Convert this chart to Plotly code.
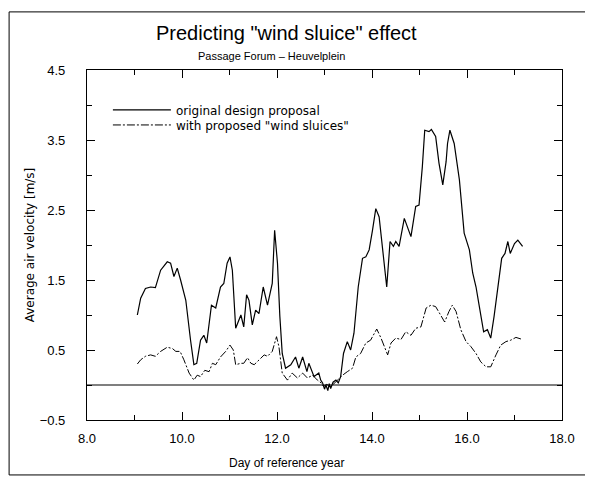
import plotly.graph_objects as go

# ---- data ----
orig_day = [9.06, 9.13, 9.23, 9.34, 9.44, 9.55, 9.69, 9.76, 9.83, 9.90, 9.97, 10.08, 10.18, 10.25, 10.31,
            10.39, 10.46, 10.52, 10.62, 10.71, 10.81, 10.88, 10.95, 11.01, 11.06, 11.13, 11.24, 11.30, 11.36,
            11.41, 11.48, 11.55, 11.62, 11.71, 11.80, 11.87, 11.90, 11.95, 12.01, 12.06, 12.11, 12.18, 12.29,
            12.39, 12.46, 12.54, 12.63, 12.67, 12.78, 12.88, 12.92, 12.96, 13.00, 13.03, 13.07, 13.10, 13.13,
            13.18, 13.24, 13.29, 13.34, 13.40, 13.48, 13.55, 13.62, 13.71, 13.80, 13.87, 13.94, 14.01, 14.08,
            14.15, 14.22, 14.31, 14.38, 14.45, 14.50, 14.57, 14.68, 14.75, 14.82, 14.92, 14.99, 15.06, 15.11,
            15.20, 15.25, 15.34, 15.41, 15.49, 15.56, 15.59, 15.64, 15.73, 15.84, 15.94, 16.05, 16.12, 16.19,
            16.26, 16.35, 16.43, 16.50, 16.57, 16.64, 16.73, 16.80, 16.86, 16.91, 17.00, 17.07, 17.17]
orig_vel = [1.00, 1.24, 1.38, 1.40, 1.39, 1.64, 1.76, 1.74, 1.55, 1.67, 1.50, 1.21, 0.64, 0.29, 0.31,
            0.64, 0.71, 0.60, 1.14, 1.10, 1.40, 1.45, 1.74, 1.83, 1.64, 0.81, 1.00, 0.83, 1.29,
            1.21, 0.86, 1.07, 1.02, 1.40, 1.14, 1.33, 1.45, 2.21, 1.74, 0.98, 0.45, 0.24, 0.29,
            0.40, 0.24, 0.40, 0.19, 0.31, 0.12, 0.17, 0.07, 0.03, -0.06, 0.00, -0.08, 0.02, -0.05,
            0.04, 0.07, 0.03, 0.12, 0.45, 0.62, 0.50, 0.74, 1.40, 1.81, 1.83, 1.93, 2.21, 2.52,
            2.40, 1.98, 1.40, 2.05, 1.98, 2.05, 1.98, 2.38, 2.26, 2.12, 2.55, 2.57, 3.12, 3.64,
            3.62, 3.65, 3.55, 3.17, 2.86, 3.19, 3.45, 3.64, 3.45, 2.93, 2.17, 1.93, 1.60, 1.40,
            1.12, 0.76, 0.79, 0.67, 0.98, 1.36, 1.81, 1.88, 2.05, 1.88, 2.02, 2.07, 1.98]

sluice_day = [9.06, 9.13, 9.23, 9.34, 9.44, 9.55, 9.69, 9.80, 9.87, 9.96, 10.04, 10.15, 10.25, 10.32, 10.39,
              10.48, 10.57, 10.64, 10.71, 10.81, 10.92, 11.01, 11.08, 11.13, 11.24, 11.30, 11.38, 11.45, 11.52,
              11.62, 11.73, 11.80, 11.90, 11.99, 12.04, 12.11, 12.22, 12.32, 12.43, 12.54, 12.64, 12.75, 12.85,
              12.93, 12.98, 13.05, 13.12, 13.20, 13.38, 13.48, 13.59, 13.66, 13.76, 13.87, 13.97, 14.10, 14.19,
              14.33, 14.40, 14.50, 14.61, 14.71, 14.82, 14.92, 15.03, 15.14, 15.24, 15.34, 15.45, 15.53, 15.62,
              15.69, 15.77, 15.87, 15.98, 16.08, 16.19, 16.29, 16.40, 16.50, 16.61, 16.71, 16.82, 16.92, 17.03,
              17.17]
sluice_vel = [0.30, 0.36, 0.41, 0.43, 0.41, 0.48, 0.54, 0.52, 0.48, 0.48, 0.36, 0.17, 0.07, 0.14, 0.12,
              0.21, 0.19, 0.31, 0.29, 0.40, 0.48, 0.57, 0.50, 0.29, 0.31, 0.31, 0.39, 0.31, 0.29,
              0.36, 0.43, 0.41, 0.48, 0.69, 0.55, 0.17, 0.07, 0.17, 0.10, 0.17, 0.10, 0.14, 0.07,
              0.03, -0.02, 0.01, -0.03, 0.02, 0.14, 0.19, 0.24, 0.40, 0.45, 0.60, 0.64, 0.80, 0.67,
              0.43, 0.60, 0.67, 0.65, 0.76, 0.71, 0.81, 0.83, 1.10, 1.14, 1.12, 0.98, 0.90, 1.05,
              1.14, 1.05, 0.79, 0.62, 0.55, 0.45, 0.33, 0.26, 0.26, 0.43, 0.57, 0.62, 0.64, 0.68,
              0.65]

x_ticks = [8.0, 10.0, 12.0, 14.0, 16.0, 18.0]
y_ticks = [-0.5, 0.5, 1.5, 2.5, 3.5, 4.5]

FONT = "Liberation Sans"
FONT_WIDE = "DejaVu Sans"

fig = go.Figure()
fig.add_trace(go.Scatter(x=orig_day, y=orig_vel, mode="lines", name="original design proposal",
                         line=dict(color="black", width=1.2), legend="legend"))
fig.add_trace(go.Scatter(x=sluice_day, y=sluice_vel, mode="lines", name='with proposed "wind sluices"',
                         line=dict(color="black", width=1, dash="8px,2px,2px,2px"), legend="legend2"))

# zero line
fig.add_hline(y=0, line=dict(color="black", width=1.2))

# outer border of the figure
fig.add_shape(type="rect", xref="paper", yref="paper", x0=-0.164, x1=1.055, y0=-0.157, y1=1.166,
              line=dict(color="black", width=1))

axis_common = dict(showgrid=False, zeroline=False, showline=True, linecolor="black", linewidth=1.2,
                   mirror="allticks", ticks="inside", ticklen=8, tickcolor="black", tickwidth=1,
                   tickfont=dict(family=FONT, size=13, color="black"))

fig.update_xaxes(range=[8, 18], tickvals=x_ticks, ticktext=[f"{v:.1f}" for v in x_ticks],
                 minor=dict(dtick=1, tick0=8, ticks="inside", ticklen=5, tickcolor="black"),
                 ticklabelstandoff=6, **axis_common)
fig.update_yaxes(range=[-0.5, 4.5], tickvals=y_ticks,
                 ticktext=[f"{v:.1f}".replace("-", "\u2212") for v in y_ticks],
                 minor=dict(dtick=0.5, tick0=0, ticks="inside", ticklen=5, tickcolor="black"),
                 title=dict(text="Average air velocity [m/s]", font=dict(family=FONT_WIDE, size=12, color="black"),
                            standoff=2),
                 ticklabelstandoff=18, **axis_common)

# x-axis title (offset to the left of the axis centre, as in the reference)
fig.add_annotation(text="Day of reference year", xref="paper", yref="paper",
                   x=0.421, y=-0.123, xanchor="center", yanchor="middle", showarrow=False,
                   font=dict(family=FONT, size=12, color="black"))

fig.add_annotation(text='Predicting "wind sluice" effect', xref="paper", yref="paper",
                   x=0.419, y=1.105, yanchor="middle", xanchor="center", showarrow=False,
                   font=dict(family=FONT, size=20, color="black"))
fig.add_annotation(text="Passage Forum \u2013 Heuvelplein", xref="paper", yref="paper",
                   x=0.389, y=1.04, yanchor="middle", xanchor="center", showarrow=False,
                   font=dict(family=FONT, size=11, color="black"))

legend_common = dict(xanchor="left", yanchor="middle", bgcolor="rgba(0,0,0,0)",
                     font=dict(family=FONT_WIDE, size=12, color="black"), itemwidth=58)

fig.update_layout(
    width=585, height=478,
    margin=dict(l=79, r=31, t=62, b=66),
    paper_bgcolor="white", plot_bgcolor="white",
    showlegend=True,
    legend=dict(x=0.044, y=0.886, **legend_common),
    legend2=dict(x=0.044, y=0.843, **legend_common),
)

fig.write_html("out.html")
